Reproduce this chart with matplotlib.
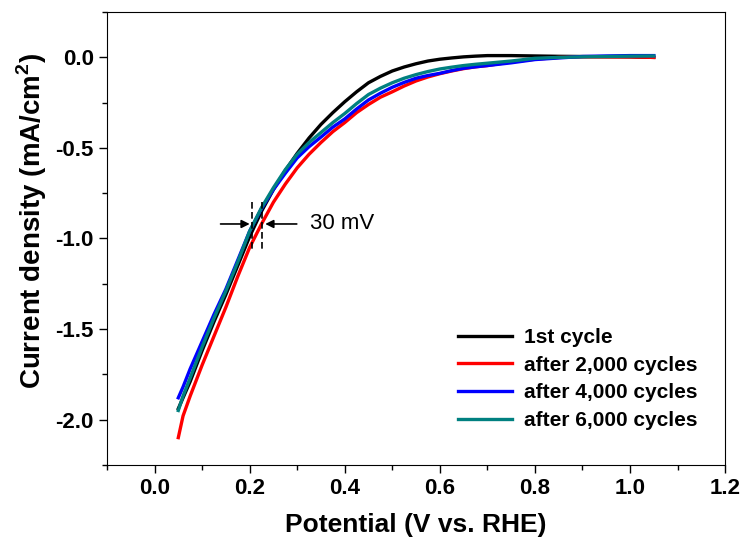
# LSV polarisation curves before / after cycling
import numpy as np
import matplotlib
matplotlib.use('Agg')
import matplotlib.pyplot as plt
from matplotlib.ticker import MultipleLocator

plt.rcParams['font.family'] = ['Liberation Sans', 'DejaVu Sans']
plt.rcParams['mathtext.fontset'] = 'custom'
plt.rcParams['mathtext.rm'] = 'Liberation Sans'
plt.rcParams['mathtext.bf'] = 'Liberation Sans:bold'
plt.rcParams['axes.unicode_minus'] = False

# potential (V vs. RHE)
potential = [0.05, 0.06, 0.075, 0.1, 0.125, 0.15, 0.175, 0.2, 0.225, 0.25,
             0.275, 0.3, 0.325, 0.35, 0.375, 0.4, 0.425, 0.45, 0.475, 0.5,
             0.525, 0.55, 0.575, 0.6, 0.625, 0.65, 0.675, 0.7,
             0.75, 0.8, 0.85, 0.9, 0.95, 1.0, 1.05]

# current density (mA/cm2) for each run
cycle_1 = [-1.94, -1.88, -1.79, -1.62, -1.46, -1.31, -1.15, -0.99, -0.85, -0.73,
           -0.625, -0.53, -0.445, -0.37, -0.305, -0.245, -0.19, -0.14, -0.105, -0.075,
           -0.053, -0.035, -0.02, -0.01, -0.003, 0.003, 0.007, 0.01,
           0.01, 0.008, 0.006, 0.005, 0.004, 0.003, 0.0]
cycle_2000 = [-2.10, -1.98, -1.87, -1.70, -1.54, -1.38, -1.21, -1.05, -0.92, -0.80,
              -0.70, -0.61, -0.535, -0.47, -0.41, -0.36, -0.305, -0.26, -0.22, -0.19,
              -0.158, -0.13, -0.108, -0.09, -0.075, -0.062, -0.052, -0.045,
              -0.025, -0.01, 0.0, 0.003, 0.003, 0.003, 0.0]
cycle_4000 = [-1.88, -1.82, -1.72, -1.57, -1.42, -1.28, -1.12, -0.96, -0.835, -0.73,
              -0.64, -0.555, -0.493, -0.44, -0.385, -0.34, -0.285, -0.235, -0.198, -0.165,
              -0.138, -0.115, -0.1, -0.088, -0.073, -0.06, -0.052, -0.045,
              -0.03, -0.012, -0.003, 0.005, 0.008, 0.01, 0.01]
cycle_6000 = [-1.95, -1.87, -1.77, -1.60, -1.44, -1.29, -1.13, -0.96, -0.83, -0.72,
              -0.62, -0.535, -0.47, -0.415, -0.36, -0.31, -0.255, -0.205, -0.17, -0.14,
              -0.115, -0.095, -0.078, -0.064, -0.054, -0.045, -0.038, -0.032,
              -0.02, -0.005, 0.0, 0.003, 0.005, 0.007, 0.008]

labels = ['1st cycle', 'after 2,000 cycles', 'after 4,000 cycles', 'after 6,000 cycles']
colors = ['black', '#ff0000', '#0000ff', '#008080']

fig = plt.figure(figsize=(7.46, 5.52), dpi=100)
ax = fig.add_axes([0.1434, 0.158, 0.8286, 0.820])

for ys, lab, col in zip([cycle_1, cycle_2000, cycle_4000, cycle_6000], labels, colors):
    ax.plot(potential, ys, color=col, lw=2.4, label=lab)

# 30 mV shift marker
ax.plot([0.206, 0.206], [-0.80, -1.06], 'k--', lw=1.2, dashes=(4, 2))
ax.plot([0.227, 0.227], [-0.80, -1.06], 'k--', lw=1.2, dashes=(4, 2))
ax.annotate('', xy=(0.206, -0.92), xytext=(0.133, -0.92),
            arrowprops=dict(arrowstyle='-|>', color='black', lw=1.2, mutation_scale=12))
ax.annotate('', xy=(0.227, -0.92), xytext=(0.305, -0.92),
            arrowprops=dict(arrowstyle='-|>', color='black', lw=1.2, mutation_scale=12))
ax.text(0.326, -0.92, '30 mV', fontsize=16, va='center', ha='left')

ax.set_xlim(-0.1, 1.2)
ax.set_ylim(-2.25, 0.25)
ax.xaxis.set_major_locator(MultipleLocator(0.2))
ax.xaxis.set_minor_locator(MultipleLocator(0.1))
ax.yaxis.set_major_locator(MultipleLocator(0.5))
ax.yaxis.set_minor_locator(MultipleLocator(0.25))
ax.tick_params(which='major', direction='out', length=6, width=1, labelsize=16)
ax.tick_params(which='minor', direction='out', length=3.5, width=1)
for lbl in ax.get_xticklabels() + ax.get_yticklabels():
    lbl.set_fontweight('bold')

ax.set_xlabel('Potential (V vs. RHE)', fontsize=19, fontweight='bold', labelpad=10)
ax.set_ylabel(r'Current density (mA/cm$^{\mathbf{2}}$)', fontsize=20, fontweight='bold')
ax.yaxis.set_label_coords(-0.094, 0.54)

leg = ax.legend(loc='lower right', frameon=False, handlelength=2.6,
                prop={'weight': 'bold', 'size': 15}, labelspacing=0.42,
                handletextpad=0.55, bbox_to_anchor=(0.985, 0.035))

fig.savefig('out.png', dpi=100)
